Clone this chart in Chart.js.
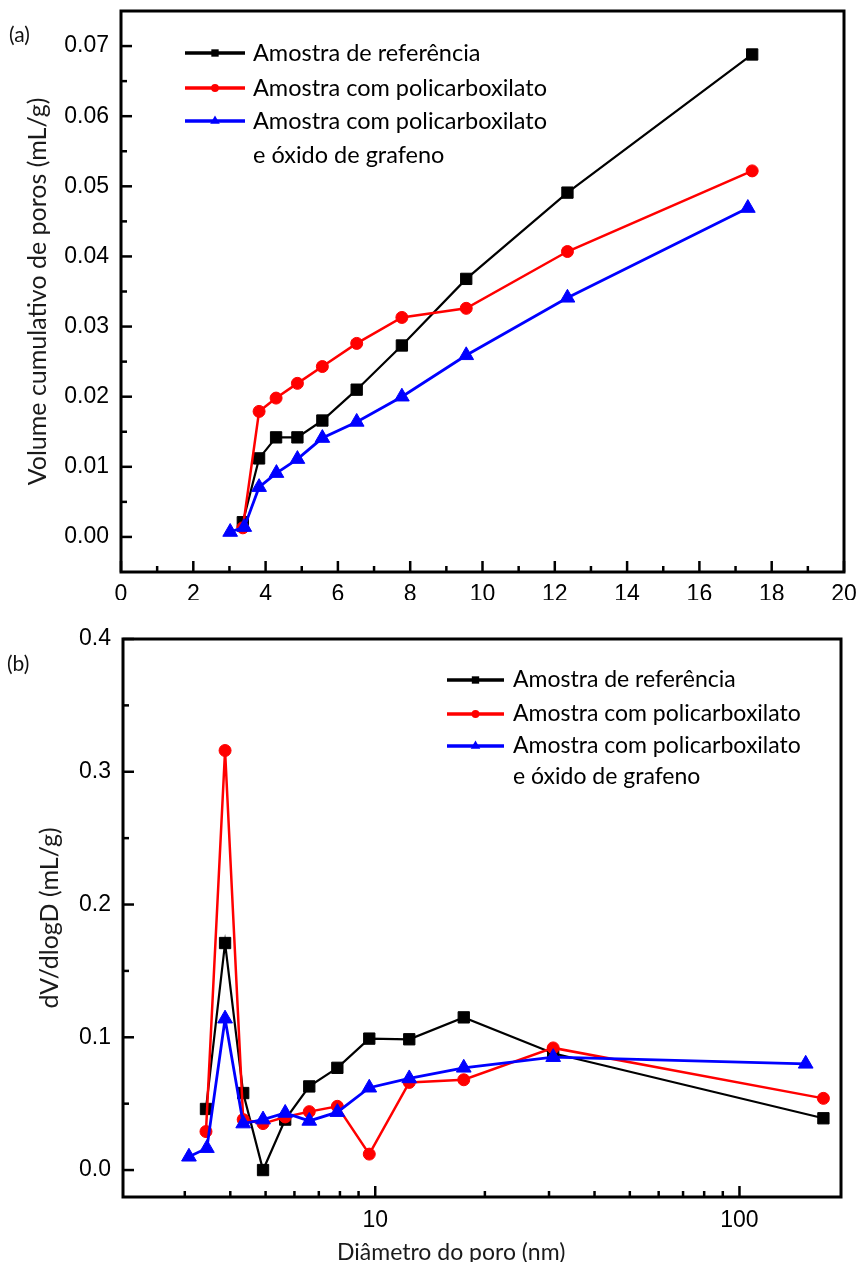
<!DOCTYPE html>
<html>
<head>
<meta charset="utf-8">
<script src="https://cdn.jsdelivr.net/npm/chart.js@4.4.1/dist/chart.umd.min.js"></script>
<style>
  body { margin: 0; background: #fff; }
  #wrap { position: relative; width: 859px; height: 1262px; overflow: hidden; }
  canvas { position: absolute; left: 0; }
  .tag { position: absolute; font-family: Lato, sans-serif; font-size: 21px; color: #111; }
  .xtitle { position: absolute; font-family: Lato, sans-serif; font-size: 23px; color: #1a1a1a; white-space: nowrap; }
</style>
</head>
<body>
<div id="wrap">
  <canvas id="chartA" width="859" height="600" style="top:0"></canvas>
  <canvas id="chartB" width="859" height="662" style="top:600px"></canvas>
  <div class="tag" style="left:9px;top:21px">(a)</div>
  <div class="tag" style="left:7px;top:650px">(b)</div>
  <div class="xtitle" style="left:337px;top:1237px">Diâmetro do poro (nm)</div>
</div>
<script>
// ---- (a) volume cumulativo ----
const diamA = [3.37, 3.82, 4.29, 4.88, 5.57, 6.52, 7.77, 9.55, 12.35, 17.46];
const diamAGo = [3.02, 3.41, 3.82, 4.30, 4.88, 5.57, 6.52, 7.77, 9.55, 12.35, 17.34];
const volRef = [0.0021, 0.0112, 0.0142, 0.0142, 0.0166, 0.0210, 0.0273, 0.0368, 0.0491, 0.0688];
const volPc = [0.0013, 0.0179, 0.0198, 0.0219, 0.0243, 0.0276, 0.0313, 0.0326, 0.0407, 0.0522];
const volGo = [0.0007, 0.0014, 0.0071, 0.0091, 0.0111, 0.0141, 0.0164, 0.0200, 0.0259, 0.0341, 0.0469];
const xTicksA = [0, 2, 4, 6, 8, 10, 12, 14, 16, 18, 20];
const xMinorA = [1, 3, 5, 7, 9, 11, 13, 15, 17, 19];
const yTicksA = [0, 0.01, 0.02, 0.03, 0.04, 0.05, 0.06, 0.07];
const yMinorA = [0.005, 0.015, 0.025, 0.035, 0.045, 0.055, 0.065];

// ---- (b) dV/dlogD ----
const diamB = [3.43, 3.87, 4.34, 4.92, 5.66, 6.59, 7.87, 9.63, 12.4, 17.5, 30.8, 170];
const diamBGo = [3.08, 3.45, 3.87, 4.34, 4.92, 5.66, 6.59, 7.87, 9.63, 12.4, 17.5, 30.8, 152];
const dvRef = [0.046, 0.171, 0.058, 0.000, 0.038, 0.063, 0.077, 0.099, 0.0985, 0.115, 0.088, 0.039];
const dvPc = [0.029, 0.316, 0.038, 0.035, 0.040, 0.044, 0.048, 0.012, 0.066, 0.068, 0.092, 0.054];
const dvGo = [0.010, 0.0165, 0.114, 0.035, 0.038, 0.043, 0.037, 0.0436, 0.062, 0.069, 0.077, 0.085, 0.080];
const xTicksB = [10, 100];
const xMinorB = [3, 4, 5, 6, 7, 8, 9, 20, 30, 40, 50, 60, 70, 80, 90];
const yTicksB = [0, 0.1, 0.2, 0.3, 0.4];
const yMinorB = [0.05, 0.15, 0.25, 0.35];

const labelRef = 'Amostra de referência';
const labelPc = 'Amostra com policarboxilato';
const labelGo = ['Amostra com policarboxilato', 'e óxido de grafeno'];

const toPoints = (xs, ys) => xs.map((x, i) => ({ x: x, y: ys[i] }));

const tickFont = { family: '"Liberation Sans", Arial, sans-serif', size: 23 };
const titleFont = { family: 'Lato, sans-serif', size: 25, lineHeight: 1 };

// marco do gráfico com ticks para dentro
const frameAxes = {
    id: 'frameAxes',
    afterDatasetsDraw(chart, args, opts) {
        const { ctx, chartArea: a, scales } = chart;
        ctx.save();
        ctx.strokeStyle = '#000';
        ctx.lineWidth = 2.5;
        const xs = scales.x, ys = scales.y;
        const tick = (v, len, horiz) => {
            ctx.beginPath();
            if (horiz) {
                const p = xs.getPixelForValue(v);
                ctx.moveTo(p, a.bottom);
                ctx.lineTo(p, a.bottom - len);
            } else {
                const p = ys.getPixelForValue(v);
                ctx.moveTo(a.left, p);
                ctx.lineTo(a.left + len, p);
            }
            ctx.stroke();
        };
        opts.xMajor.forEach(v => tick(v, 11, true));
        opts.xMinor.forEach(v => tick(v, 6, true));
        opts.yMajor.forEach(v => tick(v, 11, false));
        opts.yMinor.forEach(v => tick(v, 6, false));
        ctx.lineWidth = 3;
        ctx.strokeRect(a.left, a.top, a.right - a.left, a.bottom - a.top);
        ctx.restore();
    }
};

// legenda dentro da área do gráfico
const insideLegend = {
    id: 'insideLegend',
    afterDraw(chart, args, opts) {
        const ctx = chart.ctx;
        ctx.save();
        ctx.font = opts.size + 'px Lato, sans-serif';
        ctx.textBaseline = 'middle';
        chart.data.datasets.forEach((ds, i) => {
            const y = opts.rows[i];
            ctx.strokeStyle = ds.borderColor;
            ctx.lineWidth = 3.5;
            ctx.beginPath();
            ctx.moveTo(opts.x, y);
            ctx.lineTo(opts.x + opts.len, y);
            ctx.stroke();
            ctx.fillStyle = ds.borderColor;
            Chart.helpers.drawPoint(ctx, {
                pointStyle: ds.pointStyle, radius: ds.pointRadius * 0.65, rotation: 0, borderWidth: 0
            }, opts.x + opts.len / 2, y);
            ctx.fillStyle = '#000';
            const lines = Array.isArray(ds.label) ? ds.label : [ds.label];
            lines.forEach((t, j) => ctx.fillText(t, opts.textX, y + j * opts.lineGap));
        });
        ctx.restore();
    }
};

const makeSet = (label, data, color, style, radius, width, order) => ({
    label: label,
    data: data,
    borderColor: color,
    backgroundColor: color,
    pointBackgroundColor: color,
    pointBorderColor: color,
    pointStyle: style,
    pointRadius: radius,
    pointBorderWidth: 1,
    borderWidth: width,
    showLine: true,
    tension: 0,
    order: order
});

const fixedY = (w) => (scale) => { scale.width = w; scale.paddingTop = 0; scale.paddingBottom = 0; };
const fixedX = (h) => (scale) => { scale.height = h; scale.paddingLeft = 0; scale.paddingRight = 0; };

new Chart(document.getElementById('chartA'), {
    type: 'scatter',
    data: {
        datasets: [
            makeSet(labelRef, toPoints(diamA, volRef), '#000000', 'rect', 8, 2.2, 3),
            makeSet(labelPc, toPoints(diamA, volPc), '#ff0000', 'circle', 6, 2.5, 2),
            makeSet(labelGo, toPoints(diamAGo, volGo), '#0000ff', 'triangle', 8.5, 2.8, 1)
        ]
    },
    options: {
        responsive: false,
        animation: false,
        layout: { padding: { left: 0, right: 15, top: 11, bottom: 0 } },
        plugins: {
            legend: { display: false },
            tooltip: { enabled: false },
            frameAxes: { xMajor: xTicksA, xMinor: xMinorA, yMajor: yTicksA, yMinor: yMinorA },
            insideLegend: { x: 185, len: 60, textX: 253, rows: [53, 88, 121], lineGap: 34, size: 23.5 }
        },
        scales: {
            x: {
                type: 'linear', min: 0, max: 20,
                grid: { display: false, drawTicks: false },
                border: { display: false },
                afterBuildTicks: (s) => { s.ticks = xTicksA.map(v => ({ value: v })); },
                afterFit: fixedX(28),
                ticks: { font: tickFont, color: '#000', padding: 9, maxRotation: 0, callback: v => String(v) }
            },
            y: {
                type: 'linear', min: -0.005, max: 0.075,
                grid: { display: false, drawTicks: false },
                border: { display: false },
                afterBuildTicks: (s) => { s.ticks = yTicksA.map(v => ({ value: v })); },
                afterFit: fixedY(121),
                ticks: { font: tickFont, color: '#000', padding: 12, callback: v => v.toFixed(2) },
                title: { display: true, text: 'Volume cumulativo de poros (mL/g)', font: titleFont, color: '#1a1a1a', padding: { top: 25, bottom: 0 } }
            }
        }
    },
    plugins: [frameAxes, insideLegend]
});

new Chart(document.getElementById('chartB'), {
    type: 'scatter',
    data: {
        datasets: [
            makeSet(labelRef, toPoints(diamB, dvRef), '#000000', 'rect', 8, 2.2, 3),
            makeSet(labelPc, toPoints(diamB, dvPc), '#ff0000', 'circle', 6, 2.5, 2),
            makeSet(labelGo, toPoints(diamBGo, dvGo), '#0000ff', 'triangle', 8.5, 2.8, 1)
        ]
    },
    options: {
        responsive: false,
        animation: false,
        layout: { padding: { left: 0, right: 18, top: 39, bottom: 0 } },
        plugins: {
            legend: { display: false },
            tooltip: { enabled: false },
            frameAxes: { xMajor: xTicksB, xMinor: xMinorB, yMajor: yTicksB, yMinor: yMinorB },
            insideLegend: { x: 447, len: 57, textX: 513, rows: [80, 114, 146], lineGap: 31, size: 23 }
        },
        scales: {
            x: {
                type: 'logarithmic', min: 2.03, max: 190,
                grid: { display: false, drawTicks: false },
                border: { display: false },
                afterBuildTicks: (s) => { s.ticks = xTicksB.map(v => ({ value: v })); },
                afterFit: fixedX(65),
                ticks: { font: tickFont, color: '#000', padding: 10, maxRotation: 0, callback: v => String(v) }
            },
            y: {
                type: 'linear', min: -0.0203, max: 0.4,
                grid: { display: false, drawTicks: false },
                border: { display: false },
                afterBuildTicks: (s) => { s.ticks = yTicksB.map(v => ({ value: v })); },
                afterFit: fixedY(123),
                ticks: { font: tickFont, color: '#000', padding: 12, callback: v => v.toFixed(1) },
                title: { display: true, text: 'dV/dlogD (mL/g)', font: titleFont, color: '#1a1a1a', padding: { top: 37, bottom: 0 } }
            }
        }
    },
    plugins: [frameAxes, insideLegend]
});
</script>
</body>
</html>
